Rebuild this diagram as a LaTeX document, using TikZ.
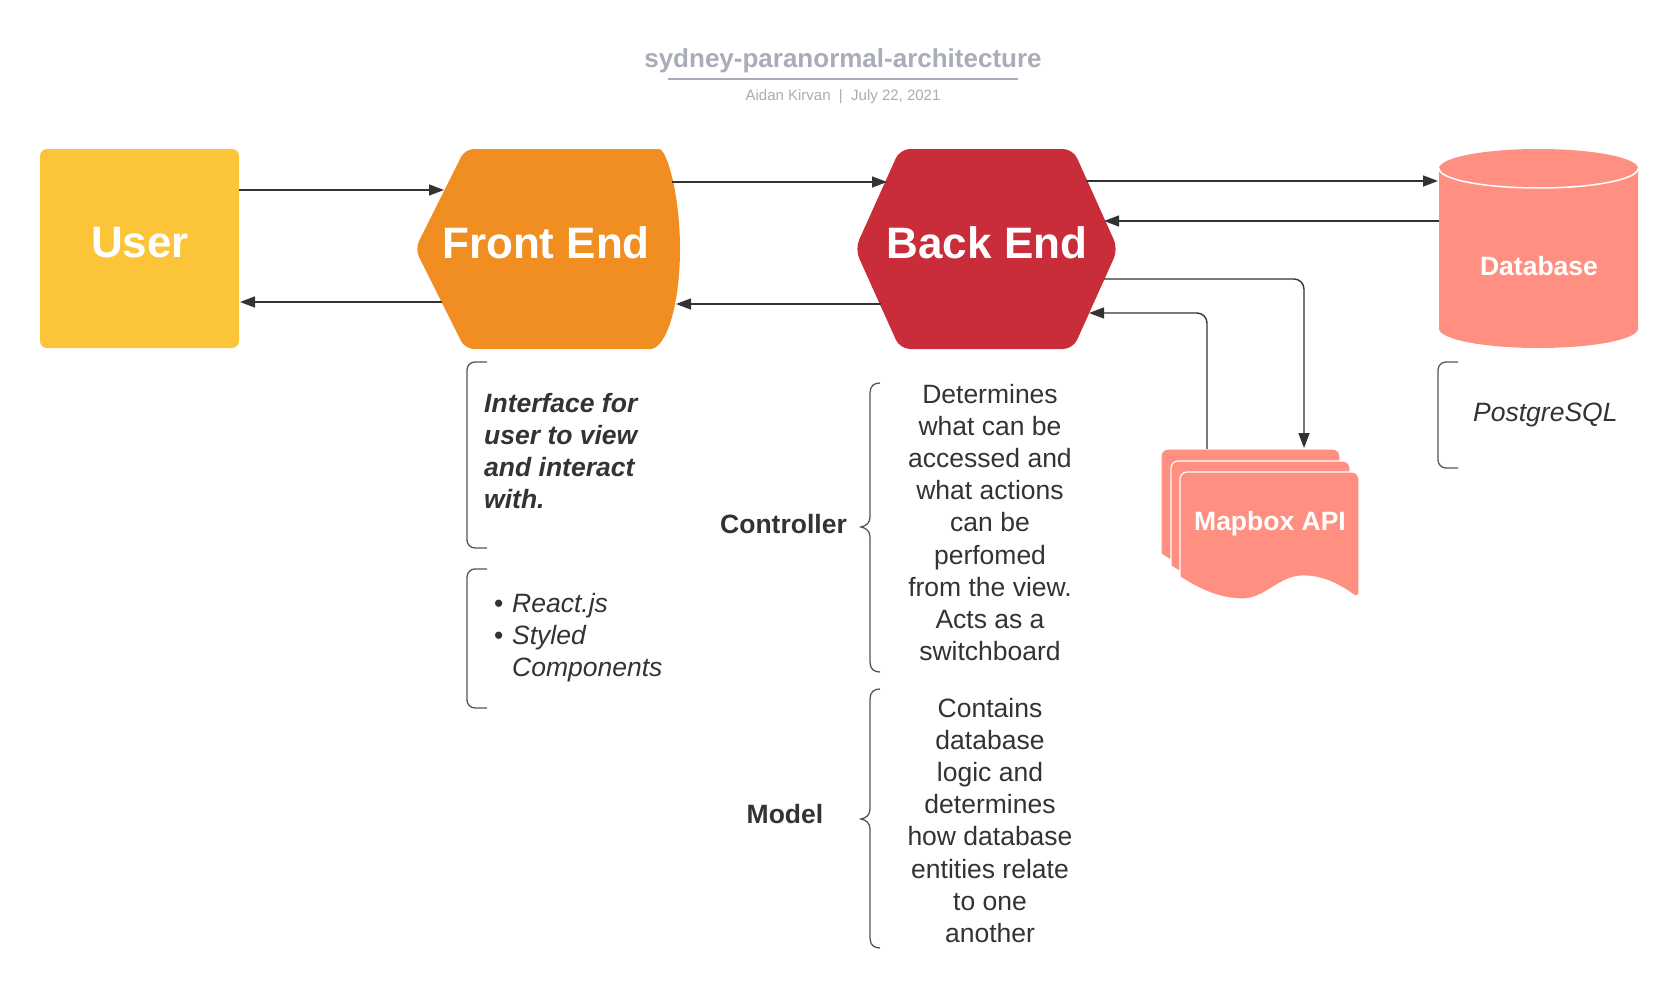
\documentclass[tikz,border=0pt]{standalone}
\usepackage{fontspec}
\setmainfont{Liberation Sans}
\usetikzlibrary{arrows.meta}
\definecolor{ink}{HTML}{333333}
\definecolor{bracecol}{HTML}{555555}
\definecolor{titlegray}{HTML}{A9ADB8}
\definecolor{usercol}{HTML}{FCC438}
\definecolor{fecol}{HTML}{F08E22}
\definecolor{becol}{HTML}{C92D39}
\definecolor{salmon}{HTML}{FF8F80}
\newcommand\mbcard[2]{%
  \filldraw[fill=salmon, draw=white, line width=1.2pt, rounded corners=7pt]
    (#1,{#2+105}) -- (#1,#2) -- ({#1+179},#2) -- ({#1+179},{#2+127})
    [sharp corners] .. controls ({#1+161},{#2+114}) and ({#1+144},{#2+104}) .. ({#1+123},{#2+104})
    .. controls ({#1+100},{#2+104}) and ({#1+85},{#2+127}) .. ({#1+63},{#2+127})
    .. controls ({#1+40},{#2+127}) and ({#1+20},{#2+118}) .. (#1,{#2+105}) -- cycle;}
\begin{document}
\begin{tikzpicture}[x=1pt,y=-1pt,
  arr/.style={draw=ink, line width=1.4pt, -{Triangle[length=15pt,width=11pt]}},
  big/.style={font=\fontsize{44}{50}\selectfont\bfseries, text=white, anchor=base, inner sep=0pt},
  mid/.style={font=\fontsize{26.5}{32}\selectfont\bfseries, text=white, anchor=base, inner sep=0pt},
  body/.style={font=\fontsize{26.5}{32}\selectfont, text=ink, anchor=base, inner sep=0pt},
  bodyl/.style={body, anchor=base west},
  brk/.style={draw=bracecol, line width=1.3pt},
]
\useasboundingbox (0,0) rectangle (1679,998);
\fill[white] (0,0) rectangle (1679,998);

% title
\node[font=\fontsize{26}{30}\selectfont\bfseries, text=titlegray, anchor=base, inner sep=0pt] (title) at (843,68) {sydney-paranormal-architecture};
\draw[titlegray, line width=2pt] (668,79.5) -- (1018,79.5);
\node[font=\fontsize{15}{18}\selectfont, text=titlegray, anchor=base, inner sep=0pt] (subtitle) at (843,100) {Aidan Kirvan\ \ |\ \ July 22, 2021};

% User
\node[fill=usercol, rounded corners=7pt, minimum width=199pt, minimum height=199pt, inner sep=0pt] (userbox) at (139.5,248.5) {};
\node[big] (user) at (140,257) {User};

% Front End (display shape)
\fill[fecol, rounded corners=9pt] (415,249) -- (465,149) -- (650,149)
  [sharp corners] .. controls (666.6,149) and (680,193.8) .. (680,249)
  .. controls (680,304.2) and (666.6,349) .. (650,349)
  [rounded corners=9pt] -- (465,349) -- cycle;
\node[big] (fe) at (546,258) {Front End};

% Back End (hexagon)
\fill[becol, rounded corners=10pt] (855,249) -- (900,149) -- (1073,149) -- (1118,249) -- (1073,349) -- (900,349) -- cycle;
\node[big] (be) at (987,258) {Back End};

% Database (cylinder)
\fill[salmon] (1439,168.5) -- (1439,328.5) .. controls (1439,339.3) and (1483.5,348) .. (1538.5,348)
  .. controls (1593.5,348) and (1638,339.3) .. (1638,328.5) -- (1638,168.5)
  .. controls (1638,157.7) and (1593.5,149) .. (1538.5,149)
  .. controls (1483.5,149) and (1439,157.7) .. (1439,168.5) -- cycle;
\draw[white, line width=1.5pt] (1439,168.5) .. controls (1439,179.3) and (1483.5,188) .. (1538.5,188)
  .. controls (1593.5,188) and (1638,179.3) .. (1638,168.5);
\node[mid] (db) at (1539,275) {Database};

% Mapbox API (multiple documents)
\mbcard{1161}{449}
\mbcard{1171}{461}
\mbcard{1180}{472}
\node[mid] (mb) at (1270,530) {Mapbox API};

% connector ports
\coordinate (uOut) at (239,190);   \coordinate (feIn) at (444,190);
\coordinate (feOut) at (442,302);  \coordinate (uIn) at (240,302);
\coordinate (feR1) at (672,182);   \coordinate (beL1) at (887,182);
\coordinate (beL2) at (881,304);   \coordinate (feR2) at (676,304);
\coordinate (beR1) at (1086,181);  \coordinate (dbL1) at (1438,181);
\coordinate (dbL2) at (1439,221);  \coordinate (beR2) at (1104,221);
\coordinate (beR3) at (1104,279);  \coordinate (mbIn) at (1304,448);
\coordinate (mbOut) at (1207,449); \coordinate (beR4) at (1089,313);

% connectors
\draw[arr] (uOut) -- (feIn);
\draw[arr] (feOut) -- (uIn);
\draw[arr] (feR1) -- (beL1);
\draw[arr] (beL2) -- (feR2);
\draw[arr] (beR1) -- (dbL1);
\draw[arr] (dbL2) -- (beR2);
\draw[arr, rounded corners=10pt] (beR3) -| (mbIn);
\draw[arr, rounded corners=10pt] (mbOut) |- (beR4);

% brackets
\draw[brk, rounded corners=8pt] (487,362) -- (467,362) -- (467,548) -- (487,548);
\draw[brk, rounded corners=8pt] (487,569) -- (467,569) -- (467,708) -- (487,708);
\draw[brk, rounded corners=8pt] (1458,362) -- (1438,362) -- (1438,468) -- (1458,468);
% curly braces
\draw[brk] (880,383) .. controls (874,383) and (870,386) .. (870,393) -- (870,517)
  .. controls (870,523) and (866,526) .. (861,527) .. controls (866,528) and (870,531) .. (870,537)
  -- (870,662) .. controls (870,669) and (874,672) .. (880,672);
\draw[brk] (880,689) .. controls (874,689) and (870,692) .. (870,699) -- (870,809)
  .. controls (870,815) and (866,818) .. (861,819) .. controls (866,820) and (870,823) .. (870,829)
  -- (870,938) .. controls (870,945) and (874,948) .. (880,948);

% Front End notes
\foreach \t [count=\i] in {Interface for, user to view, and interact, with.}
  \node[bodyl, font=\fontsize{26.5}{32}\selectfont\bfseries\itshape] (fen\i) at (484,{412+32.2*(\i-1)}) {\t};
\node[bodyl] (bul1) at (494,612) {•};
\node[bodyl] (bul2) at (494,644) {•};
\node[bodyl, font=\fontsize{26.5}{32}\selectfont\itshape] (tech1) at (512,612) {React.js};
\node[bodyl, font=\fontsize{26.5}{32}\selectfont\itshape] (tech2) at (512,644) {Styled};
\node[bodyl, font=\fontsize{26.5}{32}\selectfont\itshape] (tech3) at (512,676) {Components};

% Controller
\node[body, anchor=base east, font=\fontsize{26.5}{32}\selectfont\bfseries] (ctl) at (847,533) {Controller};
\foreach \t [count=\i] in {Determines, what can be, accessed and, what actions, can be, perfomed, from the view., Acts as a, switchboard}
  \node[body] (ctl\i) at (990,{403+32.2*(\i-1)}) {\t};

% Model
\node[body, font=\fontsize{26.5}{32}\selectfont\bfseries] (model) at (785,823) {Model};
\foreach \t [count=\i] in {Contains, database, logic and, determines, how database, entities relate, to one, another}
  \node[body] (mdl\i) at (990,{717+32.2*(\i-1)}) {\t};

% Database note
\node[bodyl, font=\fontsize{26.5}{32}\selectfont\itshape] (pg) at (1473,421) {PostgreSQL};
\end{tikzpicture}
\end{document}
